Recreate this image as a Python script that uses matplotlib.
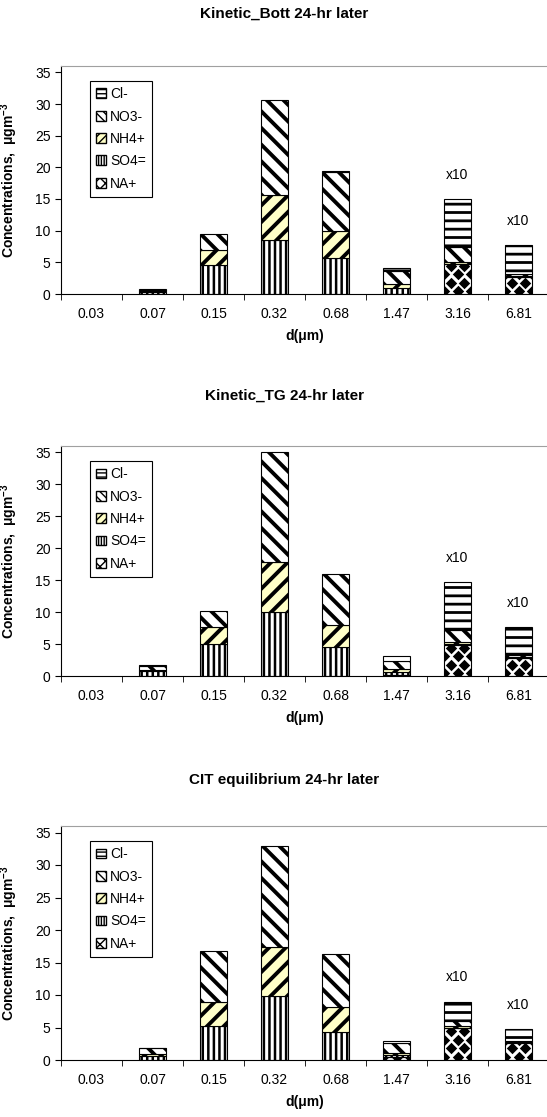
import numpy as np
import matplotlib
matplotlib.use("Agg")
import matplotlib.pyplot as plt
from matplotlib.patches import Patch

plt.rcParams['font.family'] = ['Liberation Sans', 'DejaVu Sans']
plt.rcParams['mathtext.fontset'] = 'custom'
plt.rcParams['mathtext.rm'] = 'Liberation Sans'
plt.rcParams['mathtext.bf'] = 'Liberation Sans:bold'

sizes = ['0.03', '0.07', '0.15', '0.32', '0.68', '1.47', '3.16', '6.81']
species = ['NA+', 'SO4=', 'NH4+', 'NO3-', 'Cl-']

# Kinetic_Bott
bott_na = [0, 0, 0, 0, 0, 0.05, 4.7, 2.7]
bott_so4 = [0, 0.35, 4.6, 8.6, 5.7, 0.9, 0.1, 0.1]
bott_nh4 = [0, 0.1, 2.3, 7.1, 4.3, 0.6, 0.3, 0.1]
bott_no3 = [0, 0.25, 2.6, 14.9, 9.2, 2.1, 2.4, 0.3]
bott_cl = [0, 0.1, 0, 0, 0.2, 0.45, 7.5, 4.5]

# Kinetic_TG
tg_na = [0, 0, 0, 0, 0, 0.2, 4.9, 2.8]
tg_so4 = [0, 0.8, 5.0, 10.0, 4.5, 0.4, 0.1, 0.1]
tg_nh4 = [0, 0.2, 2.6, 7.9, 3.5, 0.5, 0.3, 0.1]
tg_no3 = [0, 0.5, 2.5, 17.1, 7.9, 1.3, 1.9, 0.3]
tg_cl = [0, 0.3, 0, 0, 0, 0.8, 7.5, 4.3]

# CIT equilibrium
cit_na = [0, 0, 0, 0, 0, 0.4, 4.9, 2.6]
cit_so4 = [0, 0.6, 5.2, 9.8, 4.3, 0.4, 0.1, 0.1]
cit_nh4 = [0, 0.4, 3.8, 7.6, 3.8, 0.35, 0.2, 0.1]
cit_no3 = [0, 0.8, 7.8, 15.5, 8.2, 1.5, 0.8, 0.2]
cit_cl = [0, 0.1, 0, 0, 0, 0.25, 3.0, 1.7]

scaled = ['', '', '', '', '', '', 'x10', 'x10']

titles = ['Kinetic_Bott 24-hr later', 'Kinetic_TG 24-hr later',
          'CIT equilibrium 24-hr later']

# hatch, face, hatch linewidth for SO4=, NH4+, NO3-, Cl-
styles = {
    'SO4=': ('|||', 'white', 1.8),
    'NH4+': ('//', '#ffffc8', 2.8),
    'NO3-': ('\\\\', 'white', 2.8),
    'Cl-': ('--', 'white', 2.0),
}

BW = 0.43


def hatched_bar(ax, x, h, b, hatch, face, hlw):
    x, h, b = np.asarray(x), np.asarray(h, dtype=float), np.asarray(b)
    m = h > 0
    with plt.rc_context({'hatch.linewidth': hlw}):
        bars = ax.bar(x[m], h[m], BW, bottom=b[m], color=face,
                      edgecolor='black', hatch=hatch, linewidth=0.8, zorder=2)
    for r in bars:
        if hasattr(r, 'set_hatch_linewidth'):
            r.set_hatch_linewidth(hlw)
    return bars


def na_bar(ax, x, h):
    x, h = np.asarray(x), np.asarray(h, dtype=float)
    m = h > 0
    bars = ax.bar(x[m], h[m], BW, color='white', edgecolor='none', zorder=2)
    for xi, r in zip(x[m], bars):
        hi = r.get_height()
        x0 = xi - BW / 2
        pts_x, pts_y = [], []
        for k, yy in enumerate(np.arange(0.5, hi + 1.3, 1.3)):
            cols = [0, 0.5, 1.0] if k % 2 == 0 else [0.25, 0.75]
            for c in cols:
                pts_x.append(x0 + c * BW)
                pts_y.append(yy)
        sc = ax.scatter(pts_x, pts_y, marker='D', s=34, color='black',
                        linewidths=0, zorder=2.5)
        sc.set_clip_path(r)
    ax.bar(x[m], h[m], BW, fill=False, edgecolor='black', linewidth=0.8,
           zorder=3)


def draw_panel(ax, na, so4, nh4, no3, cl):
    x = np.arange(len(sizes))
    na_bar(ax, x, na)
    bottom = np.array(na, dtype=float)
    for name, vals in zip(species[1:], [so4, nh4, no3, cl]):
        hatch, face, hlw = styles[name]
        hatched_bar(ax, x, vals, bottom, hatch, face, hlw)
        bottom = bottom + np.array(vals)

    for xi, tot, lab in zip(x, bottom, scaled):
        if lab:
            ax.text(xi, tot + 3.8, lab, ha='center', va='center', fontsize=10)

    ax.set_xlim(-0.5, len(sizes) - 0.5)
    ax.set_ylim(0, 36)
    ax.set_yticks(np.arange(0, 36, 5))
    ax.set_xticks(x)
    ax.set_xticklabels(sizes, fontsize=10)
    ax.set_xticks(np.arange(-0.5, len(sizes)), minor=True)
    ax.tick_params(axis='x', which='major', length=0, pad=9)
    ax.tick_params(axis='x', which='minor', length=4, direction='out')
    ax.tick_params(axis='y', labelsize=10, length=4, direction='out')
    ax.spines['top'].set_color('#a0a0a0')
    ax.spines['right'].set_visible(False)
    ax.set_xlabel('d(μm)', fontsize=10, fontweight='bold', labelpad=6)
    ax.set_ylabel('Concentrations,  μgm$\\mathbf{^{-3}}$', fontsize=10,
                  fontweight='bold')
    ax.yaxis.set_label_coords(-0.085, 0.5)

    # legend swatches are tiny, so use a denser hatch to keep the pattern visible
    handles = []
    for name in species[::-1]:
        if name == 'NA+':
            handles.append(Patch(facecolor='white', edgecolor='black',
                                 hatch='xxx', label=name))
        else:
            hatch, face, hlw = styles[name]
            handles.append(Patch(facecolor=face, edgecolor='black',
                                 hatch=hatch * 2, label=name))
    leg = ax.legend(handles=handles, loc='upper left',
                    bbox_to_anchor=(0.045, 0.965), fontsize=10,
                    frameon=True, fancybox=False, framealpha=1,
                    edgecolor='black', borderpad=0.45, labelspacing=0.6,
                    handlelength=0.7, handleheight=0.7, handletextpad=0.3)
    leg.get_frame().set_linewidth(0.8)


fig = plt.figure(figsize=(5.47, 11.17), dpi=100)
W, H = 547.0, 1117.0
panels = [
    (titles[0], bott_na, bott_so4, bott_nh4, bott_no3, bott_cl, 66, 294, 14),
    (titles[1], tg_na, tg_so4, tg_nh4, tg_no3, tg_cl, 446, 676, 396),
    (titles[2], cit_na, cit_so4, cit_nh4, cit_no3, cit_cl, 826, 1060, 780),
]
for title, na, so4, nh4, no3, cl, top, bot, ty in panels:
    ax = fig.add_axes([61 / W, (H - bot) / H, 488 / W, (bot - top) / H])
    draw_panel(ax, na, so4, nh4, no3, cl)
    fig.text(0.52, (H - ty) / H, title, ha='center', va='center',
             fontsize=11, fontweight='bold')

fig.savefig('out.png', dpi=100)
